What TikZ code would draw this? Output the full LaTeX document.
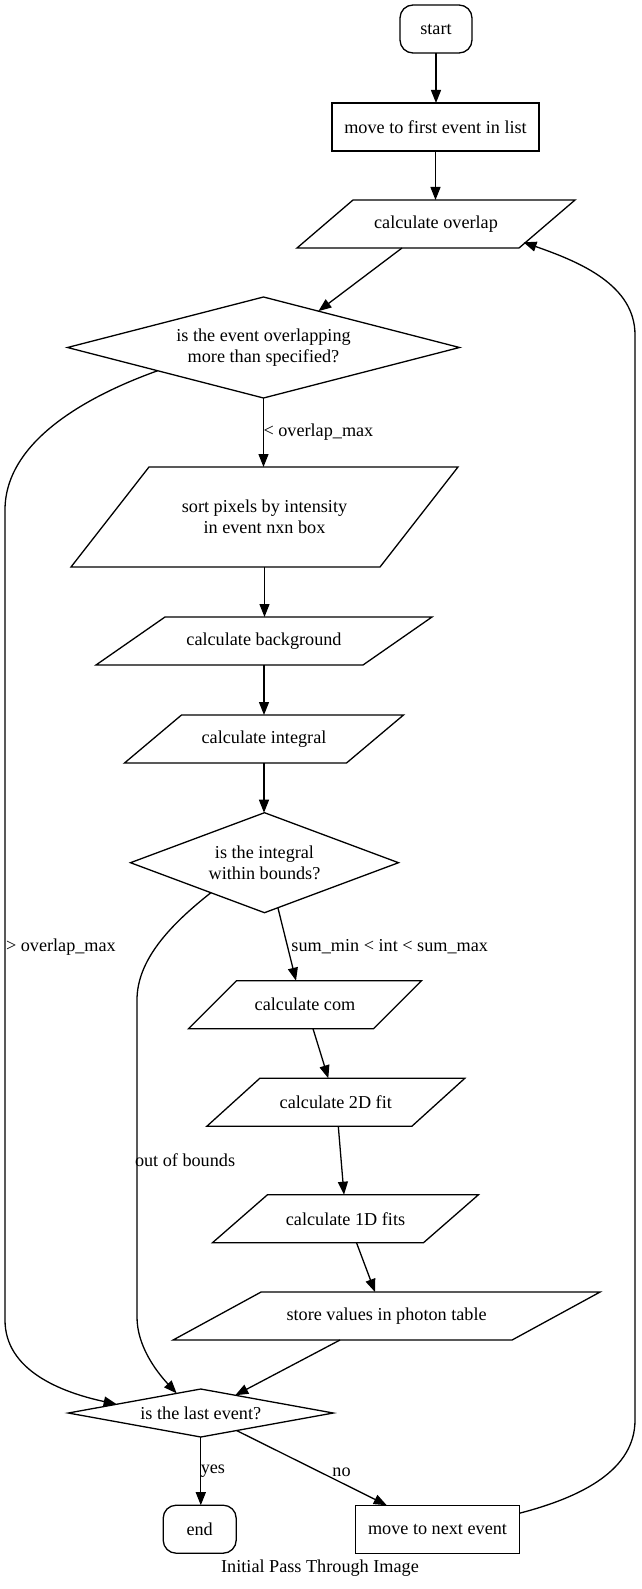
\documentclass[tikz,border=0pt]{standalone}
\usepackage{fontspec}
\setmainfont{Liberation Serif}
\usetikzlibrary{arrows.meta,calc}
\newcommand\paradraw[2]{\draw[shapeline] ($(#1.north west)+(#2,0)$) -- (#1.north east) -- ($(#1.south east)+(-#2,0)$) -- (#1.south west) -- cycle;}
\newcommand\diadraw[1]{\draw[shapeline] (#1.north) -- (#1.east) -- (#1.south) -- (#1.west) -- cycle;}
\begin{document}
\begin{tikzpicture}[x=1pt,y=-1pt,
  every node/.style={font=\fontsize{18.2}{21}\selectfont},
  shapeline/.style={draw=black, line width=1.3pt, line join=miter},
  inv/.style={inner sep=0pt, outer sep=0pt, align=center},
  boxnode/.style={draw=black, line width=1.3pt, inner sep=0pt, outer sep=0pt, align=center},
  termnode/.style={boxnode, rounded corners=13pt},
  conn/.style={line width=1.3pt, -{Triangle[length=13pt,width=10pt]}},
  lbl/.style={inner sep=0pt, outer sep=0pt}]
\useasboundingbox (0,0) rectangle (641,1589);

% nodes
\node[termnode, minimum width=72, minimum height=48] (start) at (436,29) {start};
\node[boxnode, minimum width=207, minimum height=48] (first) at (435.5,127) {move to first event in list};
\node[inv, minimum width=278, minimum height=48] (overlap) at (436,224) {calculate overlap};
\paradraw{overlap}{56}
\node[inv, minimum width=392, minimum height=101] (d1) at (263.5,347.5) {is the event overlapping\\more than specified?};
\diadraw{d1}
\node[inv, minimum width=387, minimum height=100] (sort) at (264.5,517) {sort pixels by intensity\\in event nxn box};
\paradraw{sort}{78}
\node[inv, minimum width=336, minimum height=48] (bg) at (264,641) {calculate background};
\paradraw{bg}{69}
\node[inv, minimum width=279, minimum height=48] (integral) at (264,739) {calculate integral};
\paradraw{integral}{57}
\node[inv, minimum width=268, minimum height=100] (d2) at (264.5,862.7) {is the integral\\within bounds?};
\diadraw{d2}
\node[inv, minimum width=233, minimum height=48] (com) at (305,1004.7) {calculate com};
\paradraw{com}{48}
\node[inv, minimum width=258, minimum height=48] (fit2) at (335.8,1102.3) {calculate 2D fit};
\paradraw{fit2}{53}
\node[inv, minimum width=266, minimum height=48] (fit1) at (345.5,1218.7) {calculate 1D fits};
\paradraw{fit1}{55}
\node[inv, minimum width=427, minimum height=48] (store) at (386.6,1316) {store values in photon table};
\paradraw{store}{88}
\node[inv, minimum width=265, minimum height=48] (d3) at (200.8,1413) {is the last event?};
\diadraw{d3}
\node[termnode, minimum width=73, minimum height=48] (stop) at (199.7,1529.2) {end};
\node[boxnode, minimum width=164, minimum height=48] (next) at (437.5,1529.2) {move to next event};
\node[inv] (caption) at (320,1568) {Initial Pass Through Image};

% connectors
\draw[conn] (start.south) -- (start.south |- first.north);
\draw[conn] (first.south) -- (first.south |- overlap.north);
\draw[conn] ($(overlap.south)+(-34,0)$) -- ($(d1.north)!0.28!(d1.east)$);
\draw[conn] (d1.south) -- (d1.south |- sort.north) node[midway, anchor=west, lbl] {< overlap\_max};
\draw[conn] (sort.south) -- (sort.south |- bg.north);
\draw[conn] (bg.south) -- (bg.south |- integral.north);
\draw[conn] (integral.south) -- (integral.south |- d2.north);
\draw[conn] ($(d2.south)!0.1!(d2.east)$) -- ($(com.north)+(-9,0)$) node[pos=0.53, anchor=west, lbl, xshift=4] {sum\_min < int < sum\_max};
\draw[conn] ($(com.south)+(8,0)$) -- ($(fit2.north)+(-7.5,0)$);
\draw[conn] ($(fit2.south)+(2.5,0)$) -- ($(fit1.north)+(-1.5,0)$);
\draw[conn] ($(fit1.south)+(11,0)$) -- ($(store.north)+(-11.6,0)$);
\draw[conn] ($(store.south)+(-46.6,0)$) -- ($(d3.north)!0.26!(d3.east)$);
\draw[conn] (d3.south) -- (d3.south |- stop.north) node[midway, anchor=west, lbl] {yes};
\draw[conn] ($(d3.south)!0.27!(d3.east)$) -- ($(next.north)+(-50.8,0)$) node[pos=0.556, lbl, xshift=21.5] {no};
\draw[conn] ($(next.east)+(0,-16)$) .. controls (582,1497) and (635,1470) .. (635,1420) -- (635,335) .. controls (635,285) and (580,262) .. ($(overlap.east)+(-51.5,18.3)$);
\draw[conn] ($(d1.west)!0.46!(d1.south)$) .. controls (90,395) and (5,440) .. (5,510) -- (5,1320) node[pos=0.54, anchor=west, lbl, xshift=1] {> overlap\_max} .. controls (5,1370) and (60,1392) .. ($(d3.west)!0.365!(d3.north)$);
\draw[conn] ($(d2.west)!0.6!(d2.south)$) .. controls (170,925) and (137,960) .. (137,1000) -- (137,1317) node[pos=0.505, anchor=west, lbl, xshift=-2] {out of bounds} .. controls (137,1345) and (155,1370) .. ($(d3.west)!0.818!(d3.north)$);
\end{tikzpicture}
\end{document}
